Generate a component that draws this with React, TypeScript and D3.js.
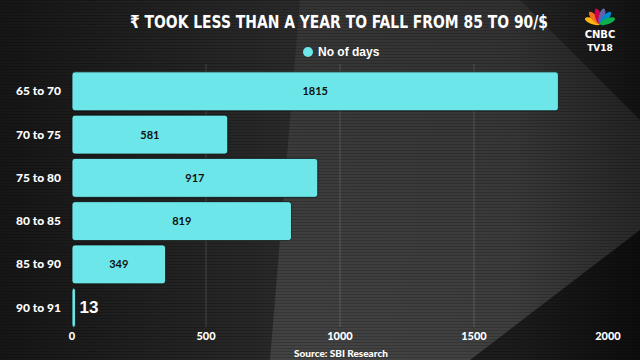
import React from "react";
import * as d3 from "d3";

const categories = ["65 to 70", "70 to 75", "75 to 80", "80 to 85", "85 to 90", "90 to 91"];
const days = [1815, 581, 917, 819, 349, 13];
const ticks = [0, 500, 1000, 1500, 2000];
const title = "₹ TOOK LESS THAN A YEAR TO FALL FROM 85 TO 90/$";
const legendLabel = "No of days";
const source = "Source: SBI Research";

const W = 640, H = 360;
const BAR = "#6ce6e8";
const FONT = "Lato, 'Open Sans', sans-serif";

export default function App() {
  const x = d3.scaleLinear().domain([0, 2000]).range([72, 608]);
  const y = d3.scaleBand().domain(categories).range([71, 328]).paddingInner(0.1).paddingOuter(0.02);
  const stripes = d3.range(0, H, 3);
  const petals = ["#fcb711", "#f37021", "#cc004c", "#6460aa", "#0089d0", "#0db14b"];
  return (
    <svg width={W} height={H} style={{ position: "absolute", left: 0, top: 0 }}>
      <defs>
        <linearGradient id="bg" x1="0" y1="0" x2="1" y2="0">
          <stop offset="0" stopColor="#161616" />
          <stop offset="0.45" stopColor="#2a2a2a" />
          <stop offset="0.8" stopColor="#262626" />
          <stop offset="1" stopColor="#121212" />
        </linearGradient>
        <linearGradient id="hl" x1="0" y1="0" x2="0" y2="1">
          <stop offset="0" stopColor="#ffffff" stopOpacity="0.05" />
          <stop offset="1" stopColor="#ffffff" stopOpacity="0.12" />
        </linearGradient>
      </defs>
      <rect width={W} height={H} fill="url(#bg)" />
      <polygon points="300,0 520,0 640,120 640,230 470,360 270,360" fill="url(#hl)" />
      <polygon points="470,360 640,230 640,360" fill="#000" opacity={0.25} />
      {stripes.map((s) => (
        <rect key={s} x={0} y={s} width={W} height={1} fill="#000" opacity={0.18} />
      ))}
      <text x={339} y={28} textAnchor="middle" fill="#fff" fontFamily="'Liberation Sans Narrow', 'DejaVu Sans Condensed', sans-serif" fontWeight="bold" fontSize={18} textLength={418} lengthAdjust="spacingAndGlyphs">{title}</text>
      <circle cx={308} cy={52} r={5} fill={BAR} />
      <text x={318} y={56} fill="#fff" fontFamily="'Liberation Sans Narrow', sans-serif" fontWeight="bold" fontSize={12}>{legendLabel}</text>
      {ticks.slice(1, 4).map((t) => (
        <line key={t} x1={x(t)} x2={x(t)} y1={64} y2={327} stroke="#fff" strokeOpacity={0.15} />
      ))}
      {categories.map((c, i) => (
        <g key={c}>
          <rect x={x(0)} y={y(c)!} width={Math.max(x(days[i]) - x(0), 3)} height={y.bandwidth()} rx={3} fill={BAR} stroke="#111" strokeWidth={0.8} />
          <text x={61} y={y(c)! + y.bandwidth() / 2 + 4} textAnchor="end" fill="#fff" fontFamily={FONT} fontWeight="900" fontSize={12}>{c}</text>
          {days[i] > 100 ? (
            <text x={(x(0) + x(days[i])) / 2} y={y(c)! + y.bandwidth() / 2 + 4} textAnchor="middle" fill="#111" fontFamily={FONT} fontWeight="bold" fontSize={11}>{days[i]}</text>
          ) : (
            <text x={x(days[i]) + 4} y={y(c)! + y.bandwidth() / 2 + 5} fill="#fff" fontFamily="'Liberation Sans Narrow', sans-serif" fontWeight="bold" fontSize={17}>{days[i]}</text>
          )}
        </g>
      ))}
      {ticks.map((t) => (
        <text key={t} x={x(t)} y={340} textAnchor="middle" fill="#fff" fontFamily={FONT} fontWeight="900" fontSize={11}>{t}</text>
      ))}
      <text x={341} y={357} textAnchor="middle" fill="#fff" fontFamily={FONT} fontWeight="900" fontSize={10}>{source}</text>
      <g transform="translate(600,24)">
        {petals.map((p, i) => {
          const deg = -160 + i * 28;
          const a = deg * Math.PI / 180;
          const cx = Math.cos(a) * 8, cy = Math.sin(a) * 8;
          return (
            <ellipse key={p} cx={cx} cy={cy} rx={3} ry={8} fill={p}
              transform={`rotate(${deg + 90} ${cx} ${cy})`} />
          );
        })}
      </g>
      <text x={600} y={38} textAnchor="middle" fill="#fff" fontFamily="'DejaVu Sans', sans-serif" fontWeight="bold" fontSize={10}>CNBC</text>
      <text x={600} y={51} textAnchor="middle" fill="#fff" fontFamily="'DejaVu Sans', sans-serif" fontWeight="bold" fontSize={9}>TV18</text>
    </svg>
  );
}
